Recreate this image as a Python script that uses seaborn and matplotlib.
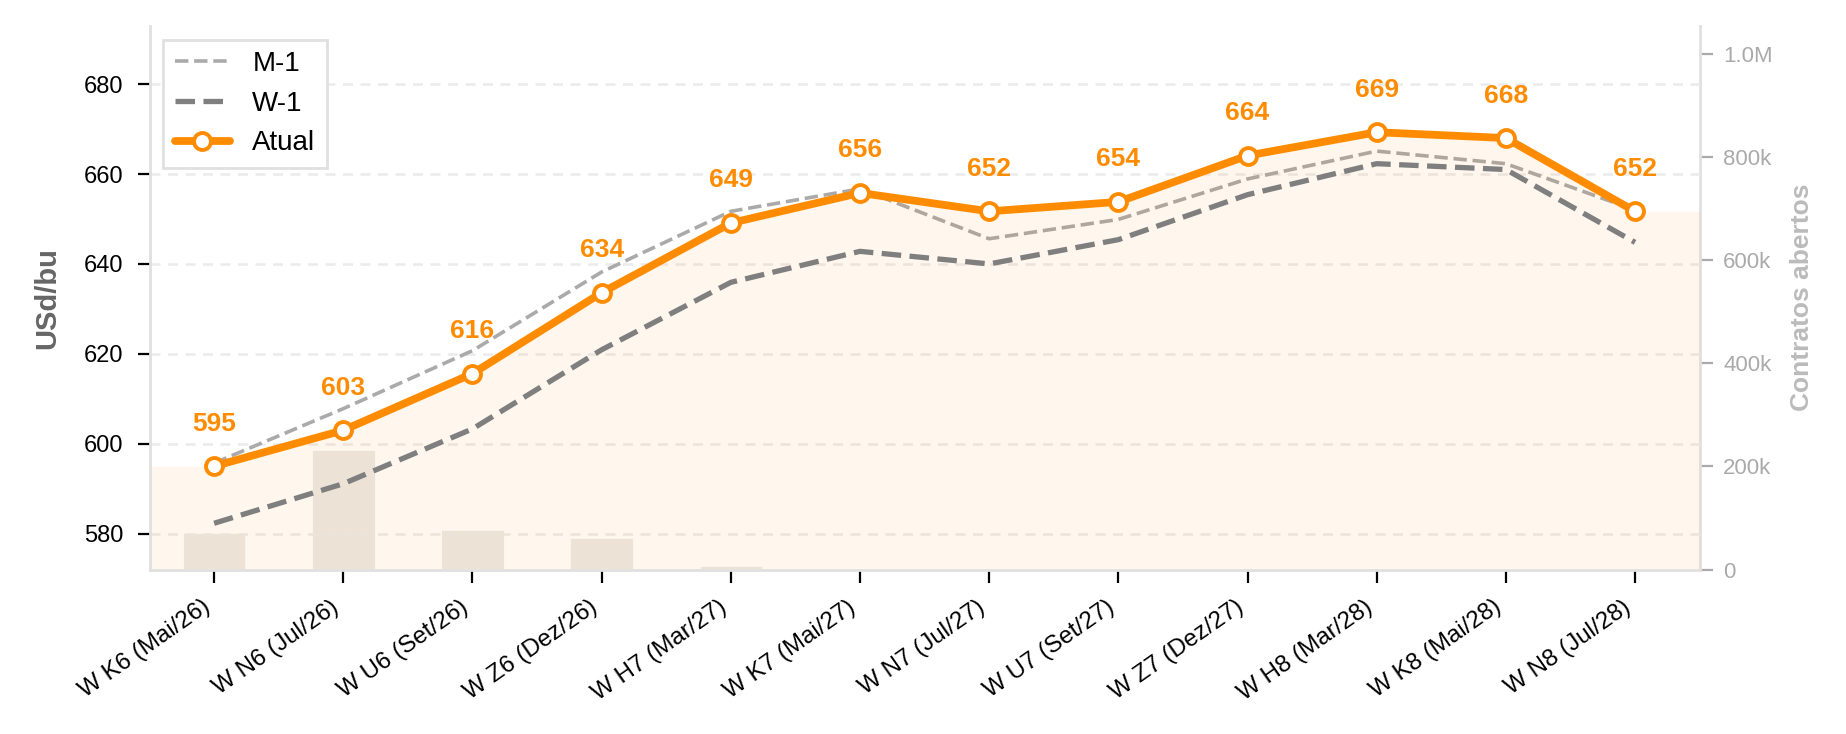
import matplotlib.pyplot as plt
import matplotlib.ticker as mticker
import numpy as np
import seaborn as sns

# --- data ---
CONTRACTS = [
    "W K6 (Mai/26)", "W N6 (Jul/26)", "W U6 (Set/26)", "W Z6 (Dez/26)",
    "W H7 (Mar/27)", "W K7 (Mai/27)", "W N7 (Jul/27)", "W U7 (Set/27)",
    "W Z7 (Dez/27)", "W H8 (Mar/28)", "W K8 (Mai/28)", "W N8 (Jul/28)",
]
atual = [595.0, 603.0, 615.6, 633.6, 649.1, 655.8, 651.7, 653.8, 664.1, 669.3, 668.0, 651.7]
w_1 = [582.3, 591.1, 603.3, 620.9, 635.9, 642.8, 640.0, 645.4, 655.4, 662.3, 661.0, 644.8]
m_1 = [595.7, 607.8, 620.7, 638.2, 651.7, 656.7, 645.6, 649.9, 658.9, 665.1, 662.3, 652.0]
open_interest = [72000, 233000, 78000, 63000, 8300, 2000, 600, 300, 200, 100, 50, 20]

ORANGE = "#FF8C00"
M1_COLOR = "#AAAAAA"
W1_COLOR = "#7F7F7F"

sns.set_style("white")
plt.rcParams["font.family"] = ["Liberation Sans", "DejaVu Sans"]

x = np.arange(len(CONTRACTS))

fig, ax = plt.subplots(figsize=(9.23, 3.67), dpi=200)
fig.subplots_adjust(left=0.081, right=0.9207, bottom=0.224, top=0.965)
ax2 = ax.twinx()
ax.set_zorder(ax2.get_zorder() + 1)
ax.patch.set_visible(False)

# open interest bars (secondary axis, behind everything)
sns.barplot(x=x, y=open_interest, native_scale=True, width=0.5,
            color="#EBE9E6", saturation=1, ax=ax2, zorder=1)
ax2.set_ylim(0, 1.055e6)
ax2.yaxis.set_major_locator(mticker.MultipleLocator(200000))
ax2.yaxis.set_major_formatter(mticker.FuncFormatter(
    lambda v, p: "0" if v == 0 else (f"{v / 1e6:.1f}M" if v >= 1e6 else f"{v / 1e3:.0f}k")))
ax2.set_ylabel("Contratos abertos", fontsize=9.5, fontweight="bold", color="#BBBBBB",
               labelpad=6)
ax2.tick_params(axis="y", colors="#AAAAAA", labelsize=8, length=4.5, width=0.8,
                labelcolor="#AAAAAA", pad=4)
ax2.grid(False)

# lines
ax.yaxis.grid(True, linestyle=(0, (4, 3)), color="#EBEBEB", linewidth=0.9, zorder=0)
ax.set_axisbelow(True)

sns.lineplot(x=x, y=m_1, color=M1_COLOR, linewidth=1.3, linestyle="--",
             label="M-1", ax=ax, zorder=1)

x_fill = np.concatenate([[x[0] - 0.5], x, [x[-1] + 0.5]])
y_fill = np.concatenate([[atual[0]], atual, [atual[-1]]])
ax.fill_between(x_fill, y_fill, 560, color=ORANGE, alpha=0.07, linewidth=0, zorder=2)

sns.lineplot(x=x, y=w_1, color=W1_COLOR, linewidth=1.9, linestyle="--",
             label="W-1", ax=ax, zorder=3)
sns.lineplot(x=x, y=atual, color=ORANGE, linewidth=2.8, marker="o",
             markersize=6.1, markerfacecolor="white", markeredgecolor=ORANGE,
             markeredgewidth=1.4, label="Atual", ax=ax, zorder=4)

for i, v in enumerate(atual):
    ax.annotate(f"{v:.0f}", xy=(i, v), xytext=(0, 11), textcoords="offset points",
                ha="center", va="bottom", fontsize=9.5, fontweight="bold", color=ORANGE)

ax.set_xlim(-0.5, len(CONTRACTS) - 0.5)
ax.set_ylim(572, 693)
ax.yaxis.set_major_locator(mticker.MultipleLocator(20))
ax.set_xticks(x)
ax.set_xticklabels(CONTRACTS, rotation=35, ha="right")
ax.tick_params(axis="x", labelsize=8.7, length=4.5, width=0.8, color="black",
               labelcolor="black", bottom=True, pad=5)
ax.tick_params(axis="y", labelsize=8.5, length=4.5, width=0.8, color="black",
               labelcolor="black", left=True, pad=5)
ax.set_xlabel("")
ax.set_ylabel("USd/bu", fontsize=10.5, fontweight="bold", color="#666666", labelpad=8)

for a in (ax, ax2):
    a.spines["top"].set_visible(False)
    for s in ("left", "bottom", "right"):
        a.spines[s].set_color("#E0E0E0")
        a.spines[s].set_linewidth(1.0)
ax.spines["right"].set_visible(False)
ax2.spines["left"].set_visible(False)
ax2.spines["bottom"].set_visible(False)

leg = ax.legend(loc="upper left", fontsize=10, frameon=True, fancybox=False,
                framealpha=1, edgecolor="#E0E0E0")
for t in leg.get_texts():
    t.set_color("black")
leg.get_frame().set_linewidth(1.0)

fig.savefig("out.png", dpi=200)
